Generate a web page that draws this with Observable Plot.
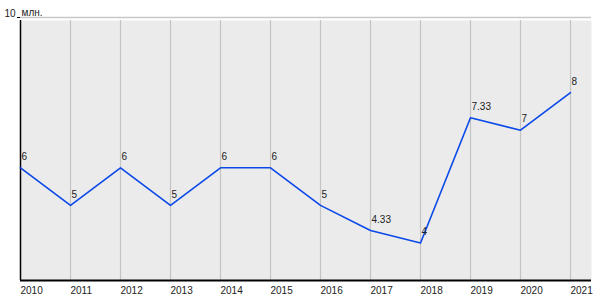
<!DOCTYPE html>
<html><head><meta charset="utf-8">
<script src="https://cdn.jsdelivr.net/npm/d3@7"></script>
<script src="https://cdn.jsdelivr.net/npm/@observablehq/plot@0.6"></script>
<style>body{margin:0;background:#fff;} svg{display:block;}</style>
</head><body>
<div id="chart"></div>
<script>
const years = [2010,2011,2012,2013,2014,2015,2016,2017,2018,2019,2020,2021];
const values = [6,5,6,5,6,6,5,4.33,4,7.33,7,8];
const valueLabels = ["6","5","6","5","6","6","5","4.33","4","7.33","7","8"];
const yTicks = [10];
const unit = "млн.";

const data = years.map((y,i)=>({year:y, value:values[i], label:valueLabels[i]}));

const chart = Plot.plot({
  width: 600, height: 300,
  marginLeft: 20, marginRight: 9, marginTop: 17, marginBottom: 20,
  style: {fontFamily: "Liberation Sans, Arial, sans-serif", fontSize: "10px", color: "#222", background: "#fff"},
  x: {type: "linear", domain: [2010, 2021], range: [20, 570], axis: null},
  y: {domain: [3, 10], axis: null},
  marks: [
    Plot.frame({fill: "#ebebeb", stroke: null, insetTop: 3}),
    Plot.ruleY(yTicks, {stroke: "#c8c8c8", strokeWidth: 1.5}),
    Plot.ruleX(years.slice(1), {stroke: "#c4c4c4", strokeWidth: 1.2, y1: 9.92, y2: 3}),
    Plot.ruleX([2010], {stroke: "#000", strokeWidth: 1.5, y1: 9.92, y2: 3}),
    Plot.ruleY([3], {stroke: "#000", strokeWidth: 2}),
    Plot.ruleY(yTicks, {x1: 2009.94, x2: 2010, stroke: "#000", strokeWidth: 1}),
    Plot.text(yTicks, {x: 2010, y: d => d, text: d => String(d), textAnchor: "end", dx: -5, dy: -4, fill: "#222"}),
    Plot.text([unit], {x: 2010, y: 10, text: d => d, textAnchor: "start", dx: 1, dy: -5, fill: "#222"}),
    Plot.text(years, {x: d => d, y: 3, text: d => String(d), textAnchor: "start", dy: 10, fill: "#222"}),
    Plot.line(data, {x: "year", y: "value", stroke: "#0a48e8", strokeWidth: 1.6}),
    Plot.text(data, {x: "year", y: "value", text: "label", textAnchor: "start", dx: 1, dy: -11, fill: "#222"})
  ]
});
document.getElementById("chart").append(chart);
</script>
</body></html>
